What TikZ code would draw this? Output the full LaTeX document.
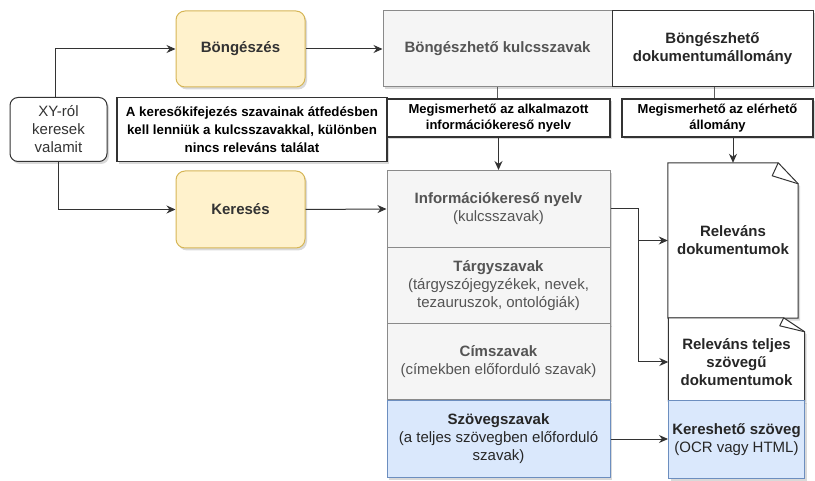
\documentclass[tikz,border=0pt]{standalone}
\usepackage{fontspec}
\setmainfont{Liberation Sans}
\usetikzlibrary{arrows.meta,shadows}
\definecolor{sarga}{HTML}{FFF2CC}
\definecolor{sargaker}{HTML}{D6B656}
\definecolor{szurke}{HTML}{F5F5F5}
\definecolor{szurkeker}{HTML}{8A8A8A}
\definecolor{kek}{HTML}{DAE8FC}
\definecolor{kekker}{HTML}{6C8EBF}
\definecolor{vonal}{HTML}{333333}
\newcommand{\fb}{\fontsize{15}{18}\selectfont}
\newcommand{\fm}{\fontsize{13}{16}\selectfont}

\begin{document}
\begin{tikzpicture}[x=1pt,y=-1pt,
   every node/.style={font=\fb, align=center, inner sep=1pt, text=vonal},
   arny/.style={drop shadow={shadow xshift=2pt,shadow yshift=-2.5pt,opacity=.3}},
   sbox/.style={arny, rounded corners=9pt, draw=sargaker, fill=sarga, line width=1pt, font=\fb\bfseries},
   gbox/.style={arny, draw=szurkeker, fill=szurke, line width=1pt, text=black!67},
   wbox/.style={arny, draw=vonal, fill=white, line width=1pt},
   kbox/.style={arny, draw=kekker, fill=kek, line width=1pt, text=black!85},
   mbox/.style={arny, draw=vonal, fill=white, line width=1.1pt, font=\fm\bfseries, text=black},
   nyil/.style={draw=vonal, line width=1pt, -{Stealth[length=9pt,width=8pt]}},
   vez/.style={draw=vonal!80, line width=1pt}]
   \useasboundingbox (0,0) rectangle (815,481);

   % bal oldal
   \node[wbox, rounded corners=8pt, minimum width=97pt, minimum height=64pt]
      (xy) at (58.5,129.5) {XY-ról\\keresek\\valamit};
   \node[sbox, minimum width=129pt, minimum height=76pt] (bong) at (240.5,49) {Böngészés};
   \node[sbox, minimum width=129pt, minimum height=77pt] (keres) at (240.5,209.5) {Keresés};
   \node[mbox, minimum width=270pt, minimum height=64pt, font=\fontsize{13.3}{18}\selectfont\bfseries]
      (atfed) at (252,129.5) {A keresőkifejezés szavainak átfedésben\\
      kell lenniük a kulcsszavakkal, különben\\nincs releváns találat};

   % felso sor
   \node[gbox, minimum width=229pt, minimum height=76pt, font=\fb\bfseries]
      (kulcs) at (497.5,49) {Böngészhető kulcsszavak};
   \node[wbox, minimum width=201pt, minimum height=76pt, font=\fb\bfseries, text=black!85]
      (dokall) at (712.5,49) {Böngészhető\\dokumentumállomány};
   \node[mbox, minimum width=223pt, minimum height=38pt]
      (megnyelv) at (498.5,118) {Megismerhető az alkalmazott\\információkereső nyelv};
   \node[mbox, minimum width=191pt, minimum height=38pt]
      (megall) at (717.5,118) {Megismerhető az elérhető\\állomány};

   % szavak oszlopa
   \node[gbox, minimum width=223pt, minimum height=77pt] (info) at (498.5,209)
      {\textbf{Információkereső nyelv}\\(kulcsszavak)};
   \node[gbox, minimum width=223pt, minimum height=77pt] (targy) at (498.5,286)
      {\textbf{Tárgyszavak}\\(tárgyszójegyzékek, nevek,\\tezauruszok, ontológiák)};
   \node[gbox, minimum width=223pt, minimum height=76pt] (cim) at (498.5,362)
      {\textbf{Címszavak}\\(címekben előforduló szavak)};
   \node[kbox, minimum width=223pt, minimum height=77pt] (szov) at (498.5,439)
      {\textbf{Szövegszavak}\\(a teljes szövegben előforduló\\szavak)};

   % jobb oszlop
   \node[minimum width=130pt, minimum height=155pt] (reldok) at (733,240.5) {};
   \filldraw[arny, draw=vonal, fill=white, line width=1pt]
      (reldok.north west) -- ([xshift=-20pt]reldok.north east)
      -- ([yshift=-21pt]reldok.north east) -- (reldok.south east)
      -- (reldok.south west) -- cycle;
   \draw[vonal, line width=1pt, line join=round] ([xshift=-20pt]reldok.north east)
      -- ([xshift=-26pt,yshift=-13pt]reldok.north east) -- ([yshift=-21pt]reldok.north east);
   \node[font=\fb\bfseries, text=black!85] at (reldok) {Releváns\\dokumentumok};

   \node[minimum width=136pt, minimum height=83pt] (relteljes) at (736.5,359.5) {};
   \filldraw[arny, draw=vonal, fill=white, line width=1pt]
      (relteljes.north west) -- ([xshift=-21pt]relteljes.north east)
      -- ([yshift=-14pt]relteljes.north east) -- (relteljes.south east)
      -- (relteljes.south west) -- cycle;
   \draw[vonal, line width=1pt, line join=round] ([xshift=-21pt]relteljes.north east)
      -- ([xshift=-25pt,yshift=-8pt]relteljes.north east) -- ([yshift=-14pt]relteljes.north east);
   \node[font=\fb\bfseries, text=black!85] at ([yshift=-3pt]relteljes.center)
      {Releváns teljes\\szövegű\\dokumentumok};

   \node[kbox, minimum width=136pt, minimum height=77pt] (kereso) at (736.5,439.5)
      {\textbf{Kereshető szöveg}\\(OCR vagy HTML)};

   % nyilak
   \draw[nyil] ([xshift=-3.5pt]xy.north) |- (bong.west);
   \draw[nyil] (xy.south) |- (keres.west);
   \draw[nyil] (bong.east) -- (kulcs.west);
   \draw[nyil] (keres.east) -- (info.west);
   \draw[vez] (kulcs.south) -- (kulcs.south |- megnyelv.north);
   \draw[nyil] (megnyelv.south) -- (megnyelv.south |- info.north);
   \draw[vez] ([xshift=1.5pt]dokall.south) -- ([xshift=1.5pt]dokall.south |- megall.north);
   \draw[nyil] (reldok.north |- megall.south) -- (reldok.north);
   \draw[nyil] (info.east) -- ++(28,0) |- (reldok.west);
   \draw[nyil] (info.east) -- ++(28,0) |- ([yshift=-2.5pt]relteljes.west);
   \draw[nyil] (szov.east) -- (szov.east -| kereso.west);
\end{tikzpicture}
\end{document}
